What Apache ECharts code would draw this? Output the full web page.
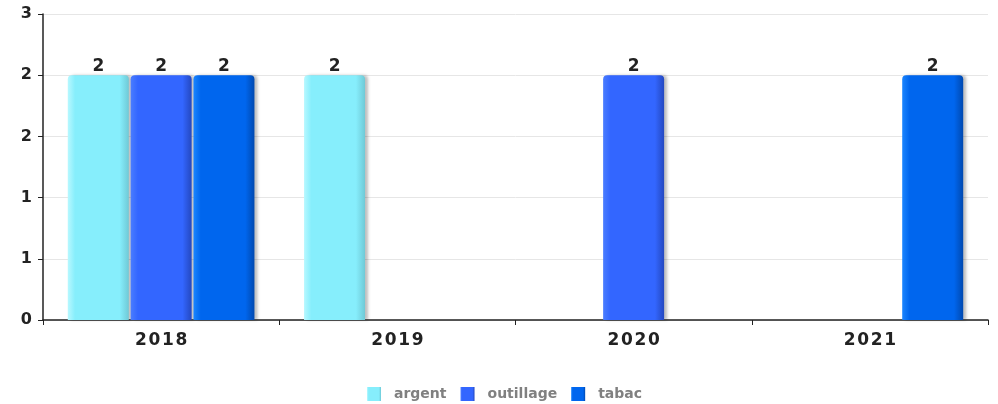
<!DOCTYPE html>
<html><head><meta charset="utf-8">
<script src="https://cdn.jsdelivr.net/npm/echarts@6/dist/echarts.min.js"></script>
<style>html,body{margin:0;padding:0;background:#fff}#c{width:998px;height:404px}</style>
</head><body><div id="c"></div>
<script>
const categories = ['2018', '2019', '2020', '2021'];
const argent = [2, 2, 0, 0];
const outillage = [2, 0, 2, 0];
const tabac = [2, 0, 0, 2];
const seriesNames = ['argent', 'outillage', 'tabac'];
const yTicks = { min: 0, max: 2.5, interval: 0.5 };

const baseColors = {
  argent: ['#b8f8ff', '#86eefc', '#86eefc', '#6fc9d6'],
  outillage: ['#4a7dff', '#3366ff', '#3366ff', '#2448c0'],
  tabac: ['#1a85ff', '#0066ee', '#0066ee', '#0049b0']
};
function grad(name) {
  const c = baseColors[name];
  return new echarts.graphic.LinearGradient(0, 0, 1, 0, [
    { offset: 0, color: c[0] }, { offset: 0.12, color: c[1] },
    { offset: 0.85, color: c[2] }, { offset: 1, color: c[3] }
  ]);
}
const dataMap = { argent, outillage, tabac };
const font = 'DejaVu Sans';
const spaced = s => String(s).split('').join('\u200A');
const chart = echarts.init(document.getElementById('c'));
chart.setOption({
  animation: false,
  color: ['#86eefc', '#3366ff', '#0066ee'],
  grid: { left: 43, right: 10, top: 14, bottom: 84, containLabel: false },
  legend: {
    bottom: 3, left: 367, padding: 0, itemWidth: 14, itemHeight: 14, itemGap: 14,
    icon: 'rect',
    textStyle: { fontFamily: font, fontWeight: 'bold', fontSize: 14, color: '#808080', padding: [0, 0, 0, 8] },
    data: seriesNames
  },
  xAxis: {
    type: 'category', data: categories,
    axisLine: { lineStyle: { color: '#222', width: 1.5 } },
    axisTick: { show: true, length: 5, lineStyle: { color: '#222' } },
    axisLabel: { fontFamily: font, fontWeight: 'bold', fontSize: 17, color: '#222', margin: 12,
      formatter: v => spaced(v) }
  },
  yAxis: {
    type: 'value', min: yTicks.min, max: yTicks.max, interval: yTicks.interval,
    axisLine: { show: true, lineStyle: { color: '#222', width: 1.5 } },
    axisTick: { show: true, length: 5, lineStyle: { color: '#222' } },
    splitLine: { lineStyle: { color: '#e6e6e6' } },
    axisLabel: { fontFamily: font, fontWeight: 'bold', fontSize: 16, color: '#222', margin: 11,
      formatter: v => String(Math.round(v)) }
  },
  series: seriesNames.map(n => ({
    name: n, type: 'bar', barWidth: 61, barGap: '3%',
    data: dataMap[n].map(v => v === 0 ? null : v),
    itemStyle: { color: grad(n), borderRadius: [4, 4, 0, 0],
      shadowColor: 'rgba(0,0,0,0.25)', shadowOffsetX: 3, shadowBlur: 3 },
    label: { show: true, position: 'top', distance: 0, fontFamily: font, fontWeight: 'bold',
      fontSize: 17, color: '#222', formatter: p => String(Math.round(p.value)) }
  }))
});
</script></body></html>
